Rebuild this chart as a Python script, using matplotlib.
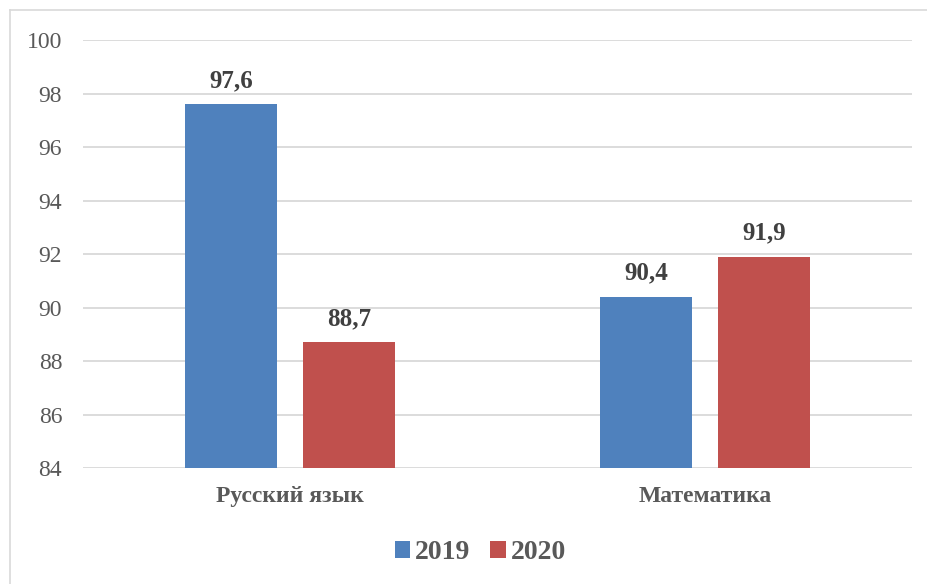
import matplotlib.pyplot as plt
from matplotlib.lines import Line2D
import numpy as np

categories = ["Русский язык", "Математика"]
years = ["2019", "2020"]
values_2019 = [97.6, 90.4]
values_2020 = [88.7, 91.9]
yticks = [84, 86, 88, 90, 92, 94, 96, 98, 100]

plt.rcParams["font.family"] = ["Liberation Serif", "DejaVu Serif"]

fig = plt.figure(figsize=(9.27, 5.84), dpi=100)
ax = fig.add_axes([0.0895, 0.1986, 0.8945, 0.7329])

x = np.arange(len(categories))
w = 0.222
off = 0.142
colors = ["#4F81BD", "#C0504D"]
b1 = ax.bar(x - off, values_2019, w, color=colors[0], label=years[0], zorder=3)
b2 = ax.bar(x + off, values_2020, w, color=colors[1], label=years[1], zorder=3)

for bars, vals in ((b1, values_2019), (b2, values_2020)):
    for b, v in zip(bars, vals):
        ax.text(b.get_x() + b.get_width() / 2, v + 0.45, f"{v:.1f}".replace(".", ","),
                ha="center", va="bottom", fontsize=18, fontweight="bold", color="#404040")

ax.set_xlim(-0.5, 1.5)
ax.set_ylim(84, 100)
ax.set_yticks(yticks)
ax.set_xticks(x)
ax.set_xticklabels(categories, fontsize=17, fontweight="bold", color="#595959")
ax.tick_params(axis="y", labelsize=17, labelcolor="#595959", length=0, pad=15)
ax.tick_params(axis="x", length=0, pad=13)
ax.yaxis.grid(True, color="#D9D9D9", linewidth=1.3, zorder=0)
ax.set_axisbelow(True)
for s in ax.spines.values():
    s.set_visible(False)

leg = fig.legend(handles=[b1, b2], labels=years, loc="center", bbox_to_anchor=(0.518, 0.054),
                 ncol=2, frameon=False, handlelength=0.55, handleheight=0.55,
                 handletextpad=0.18, columnspacing=0.72,
                 prop={"size": 20, "weight": "bold"})
for t in leg.get_texts():
    t.set_color("#595959")

# outer chart border (top and left visible)
fig.add_artist(Line2D([10 / 927, 1.0], [1 - 10 / 584, 1 - 10 / 584], color="#D9D9D9", linewidth=1.2))
fig.add_artist(Line2D([10 / 927, 10 / 927], [0, 1 - 10 / 584], color="#D9D9D9", linewidth=1.2))

fig.savefig("out.png", dpi=100)
